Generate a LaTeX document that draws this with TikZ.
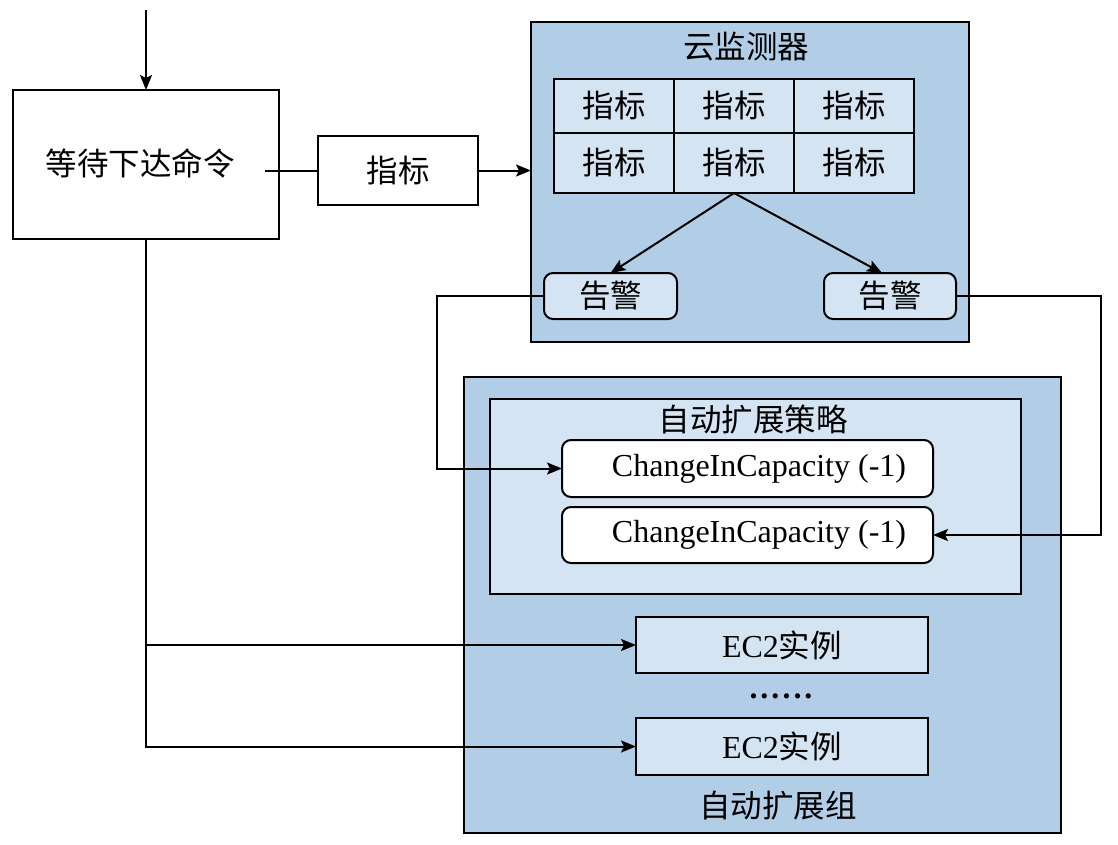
\documentclass[tikz,border=0pt]{standalone}
\usepackage{fontspec}
\setmainfont{Liberation Serif}
\newfontfamily\cjk{Noto Sans CJK SC}
\usetikzlibrary{arrows.meta}
\definecolor{dblue}{RGB}{178,206,230}
\definecolor{lblue}{RGB}{213,228,242}
\tikzset{
  every node/.style={inner sep=0pt, outer sep=0pt},
  box/.style={draw=black, line width=2pt, minimum width=#1},
  plain/.style={box=#1, fill=white},
  lbox/.style={box=#1, fill=lblue},
  dbox/.style={box=#1, fill=dblue},
  rbox/.style={box=#1, rounded corners=9pt},
  cn/.style={font=\cjk\fontsize{31.5}{36}\selectfont},
  ln/.style={font=\fontsize{32}{38}\selectfont},
  conn/.style={draw=black, line width=2pt},
  arr/.style={conn, -{Stealth[length=15pt,width=12pt,inset=3pt]}},
}
\begin{document}
\begin{tikzpicture}[x=1pt,y=-1pt]
\useasboundingbox (0,0) rectangle (1118,844);
\fill[white] (0,0) rectangle (1118,844);

% left boxes
\node[plain=266pt, minimum height=149pt] (A) at (146,164.5) {};
\node[cn] (At) at (140,163) {等待下达命令};
\node[plain=160pt, minimum height=69pt] (M) at (398,170.5) {};
\node[cn] (Mt) at (398,171) {指标};

% cloud monitor
\node[dbox=438pt, minimum height=320pt] (C) at (750,182) {};
\node[cn] (Ct) at (746,47) {云监测器};
\foreach \c/\x in {1/614,2/734,3/854}{
  \node[lbox=120pt, minimum height=54pt] (r1c\c) at (\x,106) {};
  \node[cn] at (\x,106) {指标};
  \node[lbox=120pt, minimum height=60pt] (r2c\c) at (\x,163) {};
  \node[cn] at (\x,163) {指标};
}
\node[lbox=133pt, minimum height=46pt, rbox] (L) at (610.5,296) {};
\node[cn] (Lt) at (610.5,296) {告警};
\node[lbox=132pt, minimum height=46pt, rbox] (R) at (890,296) {};
\node[cn] (Rt) at (890,296) {告警};

% auto scaling group
\node[dbox=597pt, minimum height=456pt] (G) at (762.5,605) {};
\node[lbox=531pt, minimum height=195pt] (P) at (755.5,496.5) {};
\node[cn] (Pt) at (753,420) {自动扩展策略};
\node[plain=371pt, minimum height=57pt, rbox] (K1) at (747.5,468.5) {};
\node[ln] (K1t) at (759,468.5) {ChangeInCapacity (-1)};
\node[plain=371pt, minimum height=56pt, rbox] (K2) at (747.5,535) {};
\node[ln] (K2t) at (759,535) {ChangeInCapacity (-1)};
\node[lbox=292pt, minimum height=56pt] (E1) at (782,645) {};
\node (E1t) at (782,645) {\fontsize{32}{38}\selectfont EC2{\cjk\fontsize{31.5}{36}\selectfont 实例}};
\node[ln, anchor=base] (D) at (781,698) {\textbf{.\kern3pt.\kern3pt.\kern3pt.\kern3pt.\kern3pt.}};
\node[lbox=292pt, minimum height=57pt] (E2) at (782,746.5) {};
\node (E2t) at (782,746.5) {\fontsize{32}{38}\selectfont EC2{\cjk\fontsize{31.5}{36}\selectfont 实例}};
\node[cn] (Gt) at (778,806) {自动扩展组};

% connectors
\coordinate (top) at (146,10);
\draw[arr] (top) -- (A.north);
\draw[conn] ([xshift=-14pt]A.east |- M.west) -- (M.west);
\draw[arr] (M.east) -- (M.east -| C.west);
\draw[arr] (r2c2.south) -- (L.north);
\draw[arr] (r2c2.south) -- ([xshift=-8pt]R.north);
\draw[arr] (L.west) -- ([xshift=-107pt]L.west) |- (K1.west);
\draw[arr] (R.east) -- ([xshift=145pt]R.east) |- (K2.east);
\draw[arr] (A.south) |- (E1.west);
\draw[arr] (A.south) |- (E2.west);
\end{tikzpicture}
\end{document}
